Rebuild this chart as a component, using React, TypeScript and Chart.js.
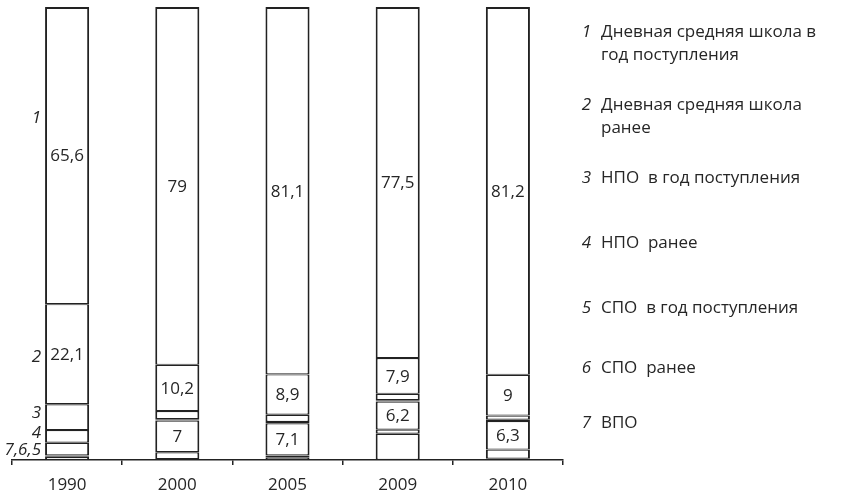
import React, { useEffect, useRef } from "react";
import { Chart, registerables } from "chart.js";

Chart.register(...registerables);

const categories = ["1990", "2000", "2005", "2009", "2010"];

// series listed top (1) to bottom (7) of each bar
const s1 = [65.6, 79, 81.1, 77.5, 81.2];
const s2 = [22.1, 10.2, 8.9, 7.9, 9];
const s3 = [5.7, 1.8, 1.6, 1.4, 0.9];
const s4 = [2.8, 0.3, 0.3, 0.3, 0.3];
const s5 = [2.8, 7, 7.1, 6.2, 6.3];
const s6 = [0.3, 1.5, 0.4, 0.9, 2.0];
const s7 = [0.7, 0.2, 0.6, 5.8, 0.3];

const seriesNums = ["1", "2", "3", "4", "5", "6", "7"];
const seriesText: string[][] = [
  ["Дневная средняя школа в", "год поступления"],
  ["Дневная средняя школа", "ранее"],
  ["НПО  в год поступления"],
  ["НПО  ранее"],
  ["СПО  в год поступления"],
  ["СПО  ранее"],
  ["ВПО"],
];

// which series carry value labels, and smallest value labelled
const labelledSeries = [0, 1, 4];
const minLabelValue = 6;

// italic markers on the left of the first bar, anchored at y-values
const leftMarks = ["1", "2", "3", "4", "7,6,5"];
const leftMarkAt = [75.5, 22.7, 10.4, 6.0, 2.2];

const FONT = '"Open Sans", "Noto Sans", sans-serif';
const TEXT = "#262626";
const LINE = "#222222";

const fmt = (v: number) => String(v).replace(".", ",");

export default function App() {
  const ref = useRef<HTMLCanvasElement | null>(null);

  useEffect(() => {
    if (!ref.current) return;
    const series = [s1, s2, s3, s4, s5, s6, s7];
    // Chart.js stacks the first dataset at the bottom, so reverse
    const datasets = series
      .map((d, i) => ({
        label: seriesNums[i],
        data: d,
        backgroundColor: "#ffffff",
        borderColor: LINE,
        borderWidth: { top: i === 0 ? 2 : 1.2, left: 2, right: 2, bottom: 1.2 },
        borderSkipped: false as const,
        inflateAmount: 0,
        categoryPercentage: 0.4,
        barPercentage: 1,
        seriesIndex: i,
      }))
      .reverse();

    const overlay = {
      id: "overlay",
      afterDraw(chart: any) {
        const ctx = chart.ctx;
        const y = chart.scales.y;
        ctx.save();
        ctx.fillStyle = TEXT;
        // value labels
        ctx.font = `17px ${FONT}`;
        ctx.textAlign = "center";
        ctx.textBaseline = "middle";
        chart.data.datasets.forEach((ds: any, di: number) => {
          if (!labelledSeries.includes(ds.seriesIndex)) return;
          const meta = chart.getDatasetMeta(di);
          meta.data.forEach((bar: any, k: number) => {
            const v = ds.data[k];
            if (v < minLabelValue) return;
            const cy = (bar.y + bar.base) / 2;
            ctx.fillText(fmt(v), bar.x, cy + 1);
          });
        });
        // left italic markers
        ctx.font = `italic 17px ${FONT}`;
        ctx.textAlign = "right";
        const firstBar = chart.getDatasetMeta(0).data[0];
        const rx = firstBar.x - firstBar.width / 2 - 4;
        leftMarks.forEach((m, i) => {
          ctx.fillText(m, rx, y.getPixelForValue(leftMarkAt[i]));
        });
        // legend
        const legendTops = [32, 105, 178, 243, 308, 368, 423];
        seriesNums.forEach((n, i) => {
          ctx.font = `italic 17px ${FONT}`;
          ctx.textAlign = "right";
          ctx.fillText(n, 591, legendTops[i]);
          ctx.font = `17px ${FONT}`;
          ctx.textAlign = "left";
          seriesText[i].forEach((t, j) => {
            ctx.fillText(t, 601, legendTops[i] + j * 23);
          });
        });
        ctx.restore();
      },
    };

    const chart = new Chart(ref.current, {
      type: "bar",
      data: { labels: categories, datasets: datasets as any },
      options: {
        animation: false,
        responsive: false,
        layout: { padding: { left: 12, right: 279, top: 7, bottom: 0 } },
        plugins: { legend: { display: false }, tooltip: { enabled: false } },
        scales: {
          x: {
            stacked: true,
            afterFit: (scale: any) => {
              scale.height = 36;
            },
            grid: {
              display: true,
              drawOnChartArea: false,
              drawTicks: true,
              tickLength: 5,
              color: LINE,
              lineWidth: 1.5,
              offset: true,
            },
            border: { display: true, color: LINE, width: 1.5 },
            ticks: { color: TEXT, font: { family: FONT, size: 17 }, padding: 10 },
          },
          y: {
            stacked: true,
            display: false,
            min: 0,
            max: 100,
          },
        },
      },
      plugins: [overlay],
    });
    return () => chart.destroy();
  }, []);

  return (
    <div style={{ position: "absolute", left: 0, top: 0, width: 842, height: 496, background: "#fff" }}>
      <canvas ref={ref} width={842} height={496} />
    </div>
  );
}
